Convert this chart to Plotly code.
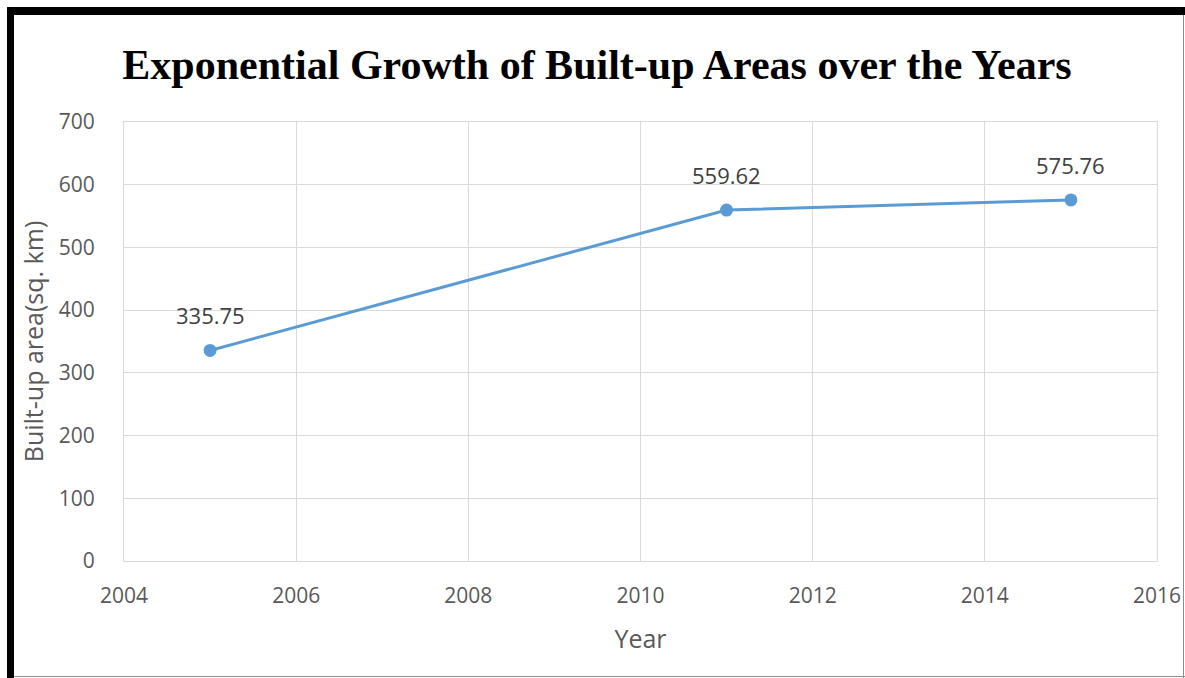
import plotly.graph_objects as go

# Built-up area by survey year
years = [2005, 2011, 2015]
built_up_area = [335.75, 559.62, 575.76]
value_labels = ["335.75", "559.62", "575.76"]

x_ticks = [2004, 2006, 2008, 2010, 2012, 2014, 2016]
y_ticks = [0, 100, 200, 300, 400, 500, 600, 700]

W, H = 1185, 678
ML, MR, MT, MB = 124, 28, 122, 117
PW, PH = W - ML - MR, H - MT - MB


def px(x):
    return (x - ML) / PW


def py(y):
    return 1 - (y - MT) / PH


fig = go.Figure()
fig.add_trace(go.Scatter(
    x=years, y=built_up_area,
    mode="lines+markers",
    line=dict(color="#5B9BD5", width=3),
    marker=dict(color="#5B9BD5", size=13),
    cliponaxis=False,
    hoverinfo="x+y",
))

# Value labels above each point
for xv, yv, lbl in zip(years, built_up_area, value_labels):
    fig.add_annotation(
        x=xv, y=yv, text=lbl, showarrow=False,
        xanchor="center", yanchor="middle", yshift=35,
        font=dict(family="Open Sans, sans-serif", size=22, color="#404040"),
    )

axis_font = dict(family="Open Sans, sans-serif", size=21, color="#595959")
fig.update_xaxes(
    range=[2004, 2016], tickvals=x_ticks, ticks="", automargin=False,
    showgrid=True, gridcolor="#d9d9d9", gridwidth=1,
    showline=True, linecolor="#d9d9d9", linewidth=1, mirror=True,
    zeroline=False, tickfont=axis_font, ticklabelstandoff=16,
    title=dict(text="Year", font=dict(family="Open Sans, sans-serif", size=25, color="#595959"), standoff=22),
)
fig.update_yaxes(
    range=[0, 700], tickvals=y_ticks, ticks="", automargin=False,
    showgrid=True, gridcolor="#d9d9d9", gridwidth=1,
    showline=True, linecolor="#d9d9d9", linewidth=1, mirror=True,
    zeroline=False, tickfont=axis_font, ticklabelstandoff=24,
    title=dict(text="Built-up area(sq. km)", font=dict(family="Open Sans, sans-serif", size=25, color="#595959"), standoff=8),
)

# Frame around the figure: heavy black top and left edges, thin grey right and bottom edges
frame = [
    dict(x0=px(7), x1=px(1185), y0=py(7), y1=py(15), fill="black"),
    dict(x0=px(7), x1=px(14), y0=py(7), y1=py(678), fill="black"),
    dict(x0=px(1183), x1=px(1184), y0=py(15), y1=py(678), fill="#8c8c8c"),
    dict(x0=px(14), x1=px(1185), y0=py(676), y1=py(677), fill="#8c8c8c"),
]
for f in frame:
    fig.add_shape(type="rect", xref="paper", yref="paper",
                  x0=f["x0"], x1=f["x1"], y0=f["y0"], y1=f["y1"],
                  fillcolor=f["fill"], line=dict(width=0), layer="above")

fig.update_layout(
    width=W, height=H,
    margin=dict(l=ML, r=MR, t=MT, b=MB, autoexpand=False),
    paper_bgcolor="white", plot_bgcolor="white",
    showlegend=False,
    title=dict(
        text="<b>Exponential Growth of Built-up Areas over the Years</b>",
        font=dict(family="Liberation Serif, Times New Roman, serif", size=42, color="black"),
        x=597 / W, xanchor="center", xref="container",
        y=1 - 64 / H, yanchor="middle", yref="container",
    ),
)

fig.write_html("out.html")
